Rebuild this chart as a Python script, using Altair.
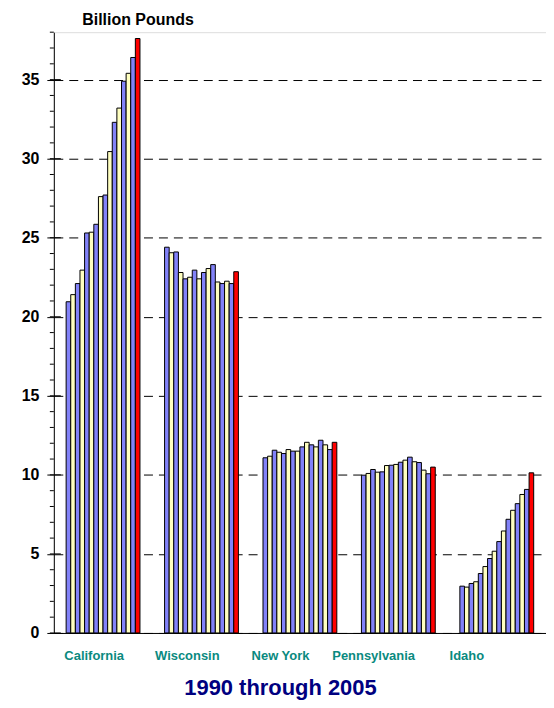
import altair as alt
import pandas as pd

states = ["California", "Wisconsin", "New York", "Pennsylvania", "Idaho"]
years = list(range(1990, 2006))

california = [20.95, 21.4, 22.1, 22.95, 25.3, 25.35, 25.85, 27.6, 27.7, 30.45, 32.3, 33.2, 34.9, 35.4, 36.4, 37.6]
wisconsin = [24.4, 24.05, 24.1, 22.8, 22.4, 22.5, 22.95, 22.4, 22.8, 23.05, 23.3, 22.2, 22.1, 22.25, 22.1, 22.85]
new_york = [11.08, 11.18, 11.56, 11.43, 11.35, 11.6, 11.5, 11.5, 11.77, 12.06, 11.9, 11.77, 12.19, 11.9, 11.6, 12.06]
pennsylvania = [9.98, 10.09, 10.34, 10.17, 10.19, 10.59, 10.61, 10.66, 10.8, 10.93, 11.12, 10.83, 10.78, 10.3, 10.07, 10.49]
idaho = [2.96, 2.9, 3.13, 3.24, 3.76, 4.2, 4.71, 5.17, 5.78, 6.45, 7.19, 7.76, 8.18, 8.76, 9.08, 10.13]

major_ticks = [0, 5, 10, 15, 20, 25, 30, 35]
minor_ticks = list(range(0, 39))

series = [california, wisconsin, new_york, pennsylvania, idaho]
rows = []
for s, vals in zip(states, series):
    for y, v in zip(years, vals):
        rows.append({"state": s, "year": y, "value": v})
df = pd.DataFrame(rows)

yscale = alt.Scale(domain=[0, 38], nice=False)

bars = alt.Chart(df).transform_calculate(
    kind="datum.year == 2005 ? 'c' : (datum.year % 2 == 0 ? 'a' : 'b')"
).mark_bar(stroke="black", strokeWidth=1).encode(
    x=alt.X("state:N", sort=states,
            scale=alt.Scale(paddingInner=0.25, paddingOuter=0.125),
            axis=alt.Axis(title=None, labels=False, orient="bottom",
                          ticks=False, domainColor="black", domainWidth=1)),
    xOffset=alt.XOffset("year:O", scale=alt.Scale(paddingInner=0, paddingOuter=0)),
    y=alt.Y("value:Q", scale=yscale,
            axis=alt.Axis(values=major_ticks, title="Billion Pounds", titleAngle=0,
                          titleAlign="left", titleBaseline="alphabetic",
                          titleX=28, titleY=-8, titleFont="Liberation Sans",
                          titleFontWeight="bold", titleFontSize=16, titleColor="black",
                          labelFont="Liberation Sans", labelFontWeight="bold",
                          labelFontSize=16, labelColor="black", labelPadding=8,
                          tickSize=7, tickColor="black", domainColor="black",
                          grid=True, gridColor="black", gridDash=[9, 6], gridWidth=1)),
    color=alt.Color("kind:N", scale=alt.Scale(domain=["a", "b", "c"],
                                              range=["#8282F8", "#FFFFC0", "#FF0000"]),
                    legend=None),
)

label_df = pd.DataFrame({"state": states})
labels = alt.Chart(label_df).mark_point(opacity=0).encode(
    x=alt.X("state:N", sort=states,
            scale=alt.Scale(type="point", range=[40, 414], padding=0),
            axis=alt.Axis(title="1990 through 2005", orient="bottom", labelAngle=0,
                          labelFont="Liberation Sans", labelFontWeight="bold",
                          labelFontSize=13, labelColor="#0A8A80", labelPadding=17,
                          labelBaseline="top", ticks=False, domain=False,
                          titleFont="Liberation Sans", titleFontWeight="bold",
                          titleFontSize=22, titleColor="#000080", titlePadding=15)),
)

major_df = pd.DataFrame({"v": major_ticks})
minor_df = pd.DataFrame({"v": minor_ticks})

inner_ticks = alt.Chart(major_df).mark_rule(color="black", strokeWidth=1).encode(
    y=alt.Y("v:Q", scale=yscale),
    x=alt.value(0), x2=alt.value(7),
)
minor = alt.Chart(minor_df).mark_rule(color="black", strokeWidth=1).encode(
    y=alt.Y("v:Q", scale=yscale),
    x=alt.value(-4), x2=alt.value(0),
)

chart = alt.layer(bars, labels, inner_ticks, minor).resolve_scale(
    x="independent"
).resolve_axis(x="independent").properties(
    width=494, height=603,
    autosize=alt.AutoSizeParams(type="none"),
    padding={"left": 46, "top": 23, "right": 0, "bottom": 68},
).configure_view(stroke=None).configure(font="Liberation Sans")

chart.save("out.html", embed_options={"renderer": "svg", "actions": False})
